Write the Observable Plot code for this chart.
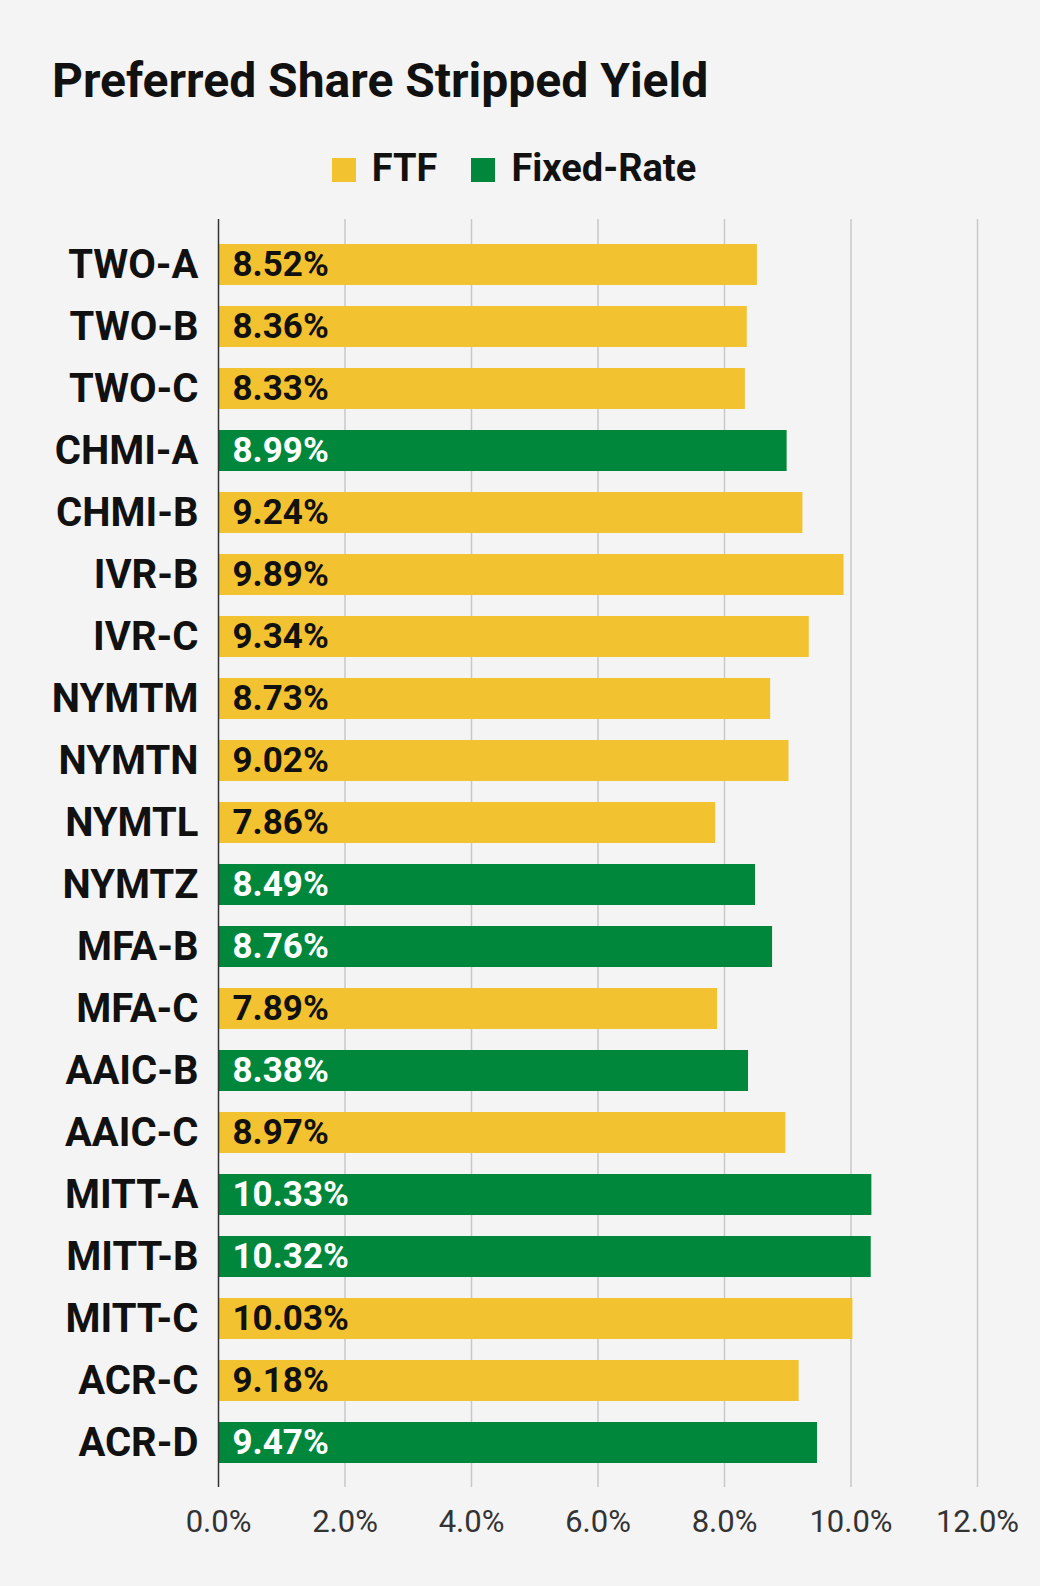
<!DOCTYPE html>
<html><head><meta charset="utf-8">
<script src="https://cdn.jsdelivr.net/npm/d3@7"></script>
<script src="https://cdn.jsdelivr.net/npm/@observablehq/plot@0.6"></script>
<style>
body{margin:0;background:#f4f4f4;font-family:Roboto,sans-serif;width:1040px;height:1586px;position:relative;overflow:hidden}
#title{position:absolute;left:52px;top:52px;font-size:48px;font-weight:700;color:#111}
#legend{position:absolute;top:146px;left:0;width:1028px;text-align:center;font-size:38px;font-weight:700;color:#111}
#legend span.sw{display:inline-block;width:24px;height:24px;margin-right:16px;vertical-align:-1px}
#chart{position:absolute;top:194px;left:0}
</style></head><body>
<div id="title">Preferred Share Stripped Yield</div>
<div id="legend"><span class="sw" style="background:#f2c230"></span>FTF<span style="display:inline-block;width:34px"></span><span class="sw" style="background:#00873c"></span>Fixed-Rate</div>
<div id="chart"></div>
<script>
const names=["TWO-A","TWO-B","TWO-C","CHMI-A","CHMI-B","IVR-B","IVR-C","NYMTM","NYMTN","NYMTL","NYMTZ","MFA-B","MFA-C","AAIC-B","AAIC-C","MITT-A","MITT-B","MITT-C","ACR-C","ACR-D"];
const yields=[8.52,8.36,8.33,8.99,9.24,9.89,9.34,8.73,9.02,7.86,8.49,8.76,7.89,8.38,8.97,10.33,10.32,10.03,9.18,9.47];
const types=["FTF","FTF","FTF","Fixed-Rate","FTF","FTF","FTF","FTF","FTF","FTF","Fixed-Rate","Fixed-Rate","FTF","Fixed-Rate","FTF","Fixed-Rate","Fixed-Rate","FTF","FTF","Fixed-Rate"];
const xTicks=[0,2,4,6,8,10,12];
const data=names.map((n,i)=>({name:n,value:yields[i],type:types[i]}));
const chart=Plot.plot({
  width:1040,height:1363,marginTop:25,marginBottom:70,marginLeft:218,marginRight:63,
  style:{background:"transparent",fontFamily:"Roboto"},
  x:{domain:[0,12],ticks:xTicks,tickFormat:d=>d.toFixed(1)+"%",label:null},
  y:{domain:names,padding:0.34,label:null},
  color:{domain:["FTF","Fixed-Rate"],range:["#f2c230","#00873c"]},
  marks:[
    Plot.gridX(xTicks.filter(d=>d>0),{stroke:"#c8c8c8",strokeOpacity:1,strokeWidth:1.5}),
    Plot.barX(data,{x:"value",y:"name",fill:"type"}),
    Plot.gridX([0],{stroke:"#333",strokeOpacity:1,strokeWidth:1.5}),
    Plot.text(data,{x:0,y:"name",text:d=>d.value.toFixed(2)+"%",textAnchor:"start",dx:14,fill:d=>d.type==="FTF"?"#111":"#fff",fontSize:35,fontWeight:700}),
    Plot.axisY({tickSize:0,tickPadding:20,fontSize:40,fontWeight:700,fill:"#111"}),
    Plot.axisX({ticks:xTicks,tickFormat:d=>d.toFixed(1)+"%",tickSize:0,tickPadding:22,fontSize:31,fill:"#333",label:null})
  ]
});
document.getElementById("chart").appendChild(chart);
</script></body></html>
